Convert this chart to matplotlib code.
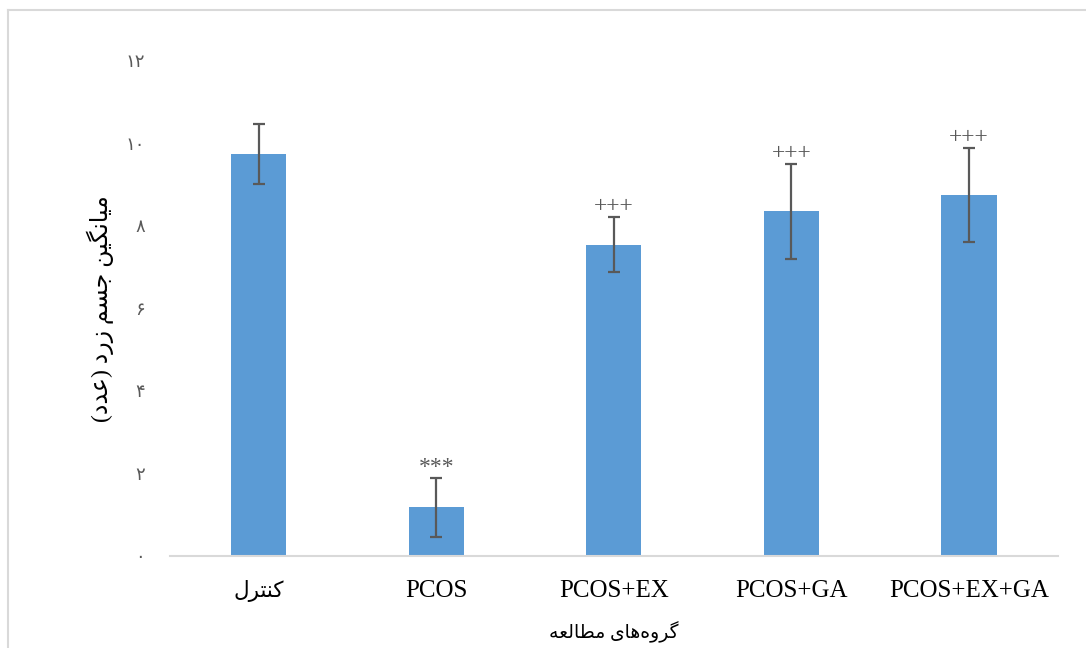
import matplotlib
matplotlib.use("Agg")
import matplotlib.pyplot as plt
from matplotlib.lines import Line2D

# data
groups = ["کنترل", "PCOS", "PCOS+EX", "PCOS+GA", "PCOS+EX+GA"]
means = [9.75, 1.18, 7.55, 8.35, 8.75]
errors = [0.73, 0.72, 0.67, 1.15, 1.14]
marks = ["", "***", "+++", "+++", "+++"]
yticks = [0, 2, 4, 6, 8, 10, 12]

ylabel_text = "میانگین جسم زرد (عدد)"
xlabel_text = "گروه‌های مطالعه"

BAR_COLOR = "#5B9BD5"
GRAY = "#595959"
FONTS = ["Liberation Serif", "DejaVu Sans"]

# small arabic shaper: (isolated, final, initial, medial)
FORMS = {
    "ا": ("\uFE8D", "\uFE8E", None, None),
    "د": ("\uFEA9", "\uFEAA", None, None),
    "ر": ("\uFEAD", "\uFEAE", None, None),
    "ز": ("\uFEAF", "\uFEB0", None, None),
    "و": ("\uFEED", "\uFEEE", None, None),
    "ت": ("\uFE95", "\uFE96", "\uFE97", "\uFE98"),
    "ج": ("\uFE9D", "\uFE9E", "\uFE9F", "\uFEA0"),
    "س": ("\uFEB1", "\uFEB2", "\uFEB3", "\uFEB4"),
    "ط": ("\uFEC1", "\uFEC2", "\uFEC3", "\uFEC4"),
    "ع": ("\uFEC9", "\uFECA", "\uFECB", "\uFECC"),
    "ل": ("\uFEDD", "\uFEDE", "\uFEDF", "\uFEE0"),
    "م": ("\uFEE1", "\uFEE2", "\uFEE3", "\uFEE4"),
    "ن": ("\uFEE5", "\uFEE6", "\uFEE7", "\uFEE8"),
    "ه": ("\uFEE9", "\uFEEA", "\uFEEB", "\uFEEC"),
    "ی": ("\uFBFC", "\uFBFD", "\uFBFE", "\uFBFF"),
    "ک": ("\uFB8E", "\uFB8F", "\uFB90", "\uFB91"),
    "گ": ("\uFB92", "\uFB93", "\uFB94", "\uFB95"),
}
MIRROR = {"(": ")", ")": "("}


def dual(c):
    return c in FORMS and FORMS[c][2] is not None


def shape(text):
    if not any(c in FORMS for c in text):
        return text
    out = []
    for i, c in enumerate(text):
        if c not in FORMS:
            if c != "\u200c":
                out.append(MIRROR.get(c, c))
            continue
        prev = text[i - 1] if i > 0 else ""
        nxt = text[i + 1] if i + 1 < len(text) else ""
        to_prev = dual(prev)
        to_next = dual(c) and nxt in FORMS
        iso, fin, ini, med = FORMS[c]
        if to_prev and to_next:
            out.append(med)
        elif to_prev:
            out.append(fin)
        elif to_next:
            out.append(ini)
        else:
            out.append(iso)
    return "".join(reversed(out))


def fa_digits(n):
    return "".join(chr(0x06F0 + int(d)) for d in str(n))


fig = plt.figure(figsize=(10.86, 6.48), dpi=100)
ax = fig.add_axes([0.1565, 0.142, 0.8175, 0.764])

# outer chart border (only top and left visible in reference)
bx, by = 7.5 / 1086, 1 - 9.5 / 648
fig.add_artist(Line2D([bx, bx], [0, by], transform=fig.transFigure,
                      color="#D9D9D9", linewidth=1.5))
fig.add_artist(Line2D([bx, 1.01], [by, by], transform=fig.transFigure,
                      color="#D9D9D9", linewidth=1.5))

x = list(range(len(groups)))
ax.bar(x, means, width=0.31, color=BAR_COLOR, zorder=2)
ax.errorbar(x, means, yerr=errors, fmt="none", ecolor=GRAY,
            elinewidth=1.6, capsize=4.5, capthick=1.6, zorder=3)

for xi, m, e, s in zip(x, means, errors, marks):
    if s:
        ax.annotate(s, (xi, m + e), xytext=(0, 0), textcoords="offset points",
                    ha="center", va="bottom", fontsize=17, color=GRAY,
                    family=FONTS)

ax.set_xlim(-0.5, len(groups) - 0.5)
ax.set_ylim(0, 12)
ax.set_yticks(yticks)
ax.set_yticklabels([fa_digits(t) for t in yticks], family=FONTS,
                   fontsize=13, color=GRAY)
ax.set_xticks(x)
ax.set_xticklabels([shape(g) for g in groups], family=FONTS,
                   fontsize=18, color="black")
ax.get_xticklabels()[0].set_fontsize(15.5)
ax.tick_params(axis="y", length=0, pad=18)
ax.tick_params(axis="x", length=0, pad=17)

for side in ["top", "right", "left"]:
    ax.spines[side].set_visible(False)
ax.spines["bottom"].set_color("#D9D9D9")
ax.spines["bottom"].set_linewidth(1.5)

ax.set_ylabel(shape(ylabel_text), family=FONTS, fontsize=17, labelpad=8)
ax.set_xlabel(shape(xlabel_text), family=FONTS, fontsize=13.5, labelpad=14)

fig.savefig("out.png", dpi=100)
